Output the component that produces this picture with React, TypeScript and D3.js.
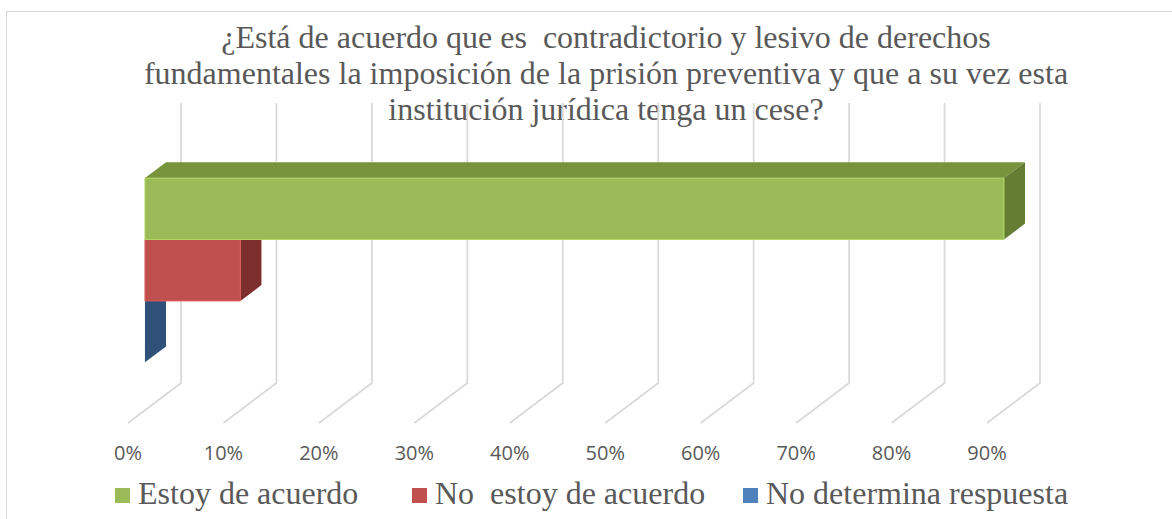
import React from "react";
import * as d3 from "d3";

// chart data
const categories = ["Respuesta"];
const seriesNames = ["Estoy de acuerdo", "No  estoy de acuerdo", "No determina respuesta"];
const seriesValues = [0.9, 0.1, 0];
const tickValues = [0, 0.1, 0.2, 0.3, 0.4, 0.5, 0.6, 0.7, 0.8, 0.9];
const titleLines = [
  "¿Está de acuerdo que es  contradictorio y lesivo de derechos",
  "fundamentales la imposición de la prisión preventiva y que a su vez esta",
  "institución jurídica tenga un cese?",
];

const front = ["#9BBB59", "#C0504D", "#4F81BD"];
const topC = ["#77933C", "#943B39", "#3B6190"];
const side = ["#657D33", "#7D2F2E", "#2F5078"];

const width = 1172;
const height = 519;
const serif =
  '"Liberation Serif", Tinos, "Times New Roman", Times, "Noto Serif", "DejaVu Serif", FreeSerif, serif';

// back wall area
const wallLeft = 181;
const wallRight = 1040;
const wallTop = 103;
const wallBottom = 383;
// depth offset of floor (front edge relative to back)
const DX = 53;
const DY = 40;
const T0 = 0.32; // bar front depth
const T1 = 0.717; // bar back depth

const App = () => {
  const x = d3.scaleLinear().domain([0, 0.9]).range([wallLeft, wallRight]);
  const yCat = d3
    .scaleBand()
    .domain(categories)
    .range([wallTop, wallBottom])
    .paddingInner(0)
    .paddingOuter(0.26);
  const ySer = d3
    .scaleBand()
    .domain(seriesNames)
    .range([yCat(categories[0]) as number, (yCat(categories[0]) as number) + yCat.bandwidth()]);

  // project a point of value v, wall y, depth t (0 front, 1 back)
  const P = (v: number, yb: number, t: number): [number, number] => [
    x(v) - (1 - t) * DX,
    yb + (1 - t) * DY,
  ];
  const poly = (pts: [number, number][]) => {
    const p = d3.path();
    pts.forEach((q, i) => (i === 0 ? p.moveTo(q[0], q[1]) : p.lineTo(q[0], q[1])));
    p.closePath();
    return p.toString();
  };

  const bars = seriesNames
    .map((s, i) => {
      const v = seriesValues[i];
      const y0 = ySer(s) as number;
      const y1 = y0 + ySer.bandwidth();
      return (
        <g key={s}>
          <path
            d={poly([P(0, y0, T0), P(v, y0, T0), P(v, y0, T1), P(0, y0, T1)])}
            fill={topC[i]}
          />
          <path
            d={poly([P(v, y0, T0), P(v, y0, T1), P(v, y1, T1), P(v, y1, T0)])}
            fill={side[i]}
          />
          <path
            d={poly([P(0, y0, T0), P(v, y0, T0), P(v, y1, T0), P(0, y1, T0)])}
            fill={front[i]}
            stroke={d3.color(front[i])!.brighter(0.4).toString()}
            strokeWidth={v > 0 ? 1 : 0}
          />
        </g>
      );
    })
    .reverse();

  const legendX = [115, 412, 743];

  return (
    <svg
      width={width}
      height={height}
      style={{ position: "absolute", left: 0, top: 0, background: "#fff" }}
    >
      <rect x={6.5} y={11.5} width={1180} height={520} fill="#fff" stroke="#D9D9D9" />
      <g style={{ fontFamily: serif }} fontSize={32} fill="#595959" textAnchor="middle">
        {titleLines.map((l, i) => (
          <text key={i} x={606} y={48 + i * 36} style={{ whiteSpace: "pre" }}>
            {l}
          </text>
        ))}
      </g>
      <g stroke="#D9D9D9" strokeWidth={1.75} fill="none">
        {tickValues.map((t) => (
          <polyline
            key={t}
            points={[P(t, wallTop, 1), P(t, wallBottom, 1), P(t, wallBottom, 0)]
              .map((q) => q.join(","))
              .join(" ")}
          />
        ))}
      </g>
      {bars}
      <g style={{ fontFamily: "'Open Sans', sans-serif" }} fontSize={20} fill="#595959" textAnchor="middle">
        {tickValues.map((t) => (
          <text key={t} x={P(t, wallBottom, 0)[0]} y={460}>
            {d3.format(".0%")(t)}
          </text>
        ))}
      </g>
      <g style={{ fontFamily: serif }} fontSize={32} fill="#595959">
        {seriesNames.map((s, i) => (
          <g key={s} transform={`translate(${legendX[i]},0)`}>
            <rect x={0} y={488} width={15} height={15} fill={front[i]} />
            <text x={23} y={504} style={{ whiteSpace: "pre" }}>
              {s}
            </text>
          </g>
        ))}
      </g>
    </svg>
  );
};

export default App;
